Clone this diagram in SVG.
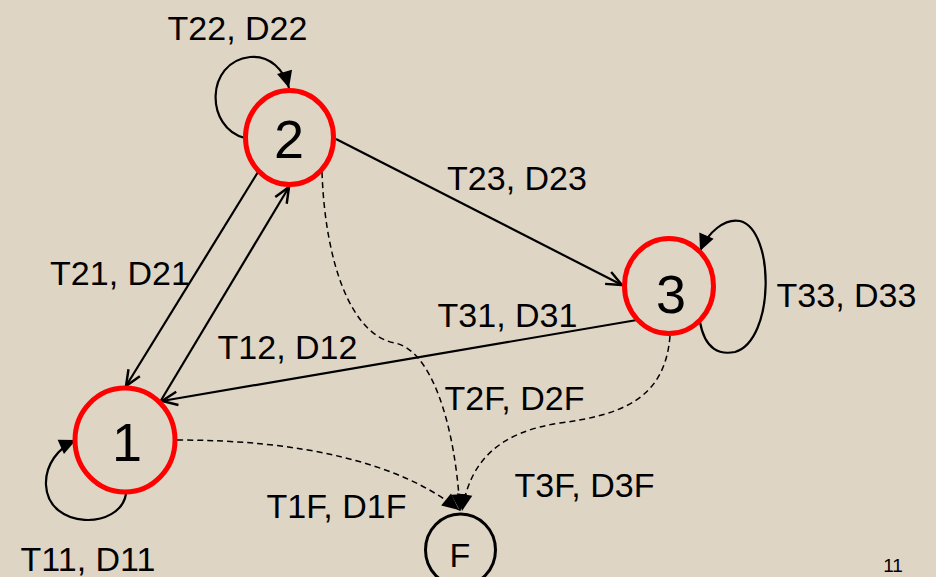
<svg xmlns="http://www.w3.org/2000/svg" width="936" height="577" viewBox="0 0 936 577">
  <defs>
    <style>
      .lbl { font-family: "Liberation Sans", Arial, sans-serif; font-size: 34px; fill: #000; text-anchor: middle; }
      .num { font-family: "Liberation Sans", Arial, sans-serif; font-size: 54px; fill: #000; text-anchor: middle; }
      .state { fill: none; stroke: #FF0000; stroke-width: 5; }
      .edge { fill: none; stroke: #000; stroke-width: 2.2; }
      .dash { fill: none; stroke: #000; stroke-width: 1.5; stroke-dasharray: 6 4; }
    </style>
    <marker id="open" markerUnits="userSpaceOnUse" markerWidth="20" markerHeight="20" viewBox="-16 -8 18 16" refX="0" refY="0" orient="auto">
      <path d="M-14,-6 L0,0 L-14,6" fill="none" stroke="#000" stroke-width="2.2"/>
    </marker>
    <marker id="fill" markerUnits="userSpaceOnUse" markerWidth="20" markerHeight="20" viewBox="-16 -8 18 16" refX="0" refY="0" orient="auto">
      <path d="M-15,-7 L0,0 L-15,7 Z" fill="#000"/>
    </marker>
  </defs>
  <rect x="0" y="0" width="936" height="577" fill="#DFD5C5"/>

  <g id="connectors">
    <path class="edge" d="M258,172 L126,386" marker-end="url(#open)"/>
    <path class="edge" d="M160,402 L289,187" marker-end="url(#open)"/>
    <path class="edge" d="M637,320 L162,401" marker-end="url(#open)"/>
    <path class="edge" d="M336,139 L622,285" marker-end="url(#open)"/>
    <path class="edge" d="M245,138 C205,128 205,62 250,57 C270,55 284,70 289,88" marker-end="url(#fill)"/>
    <path class="edge" d="M126,494 C120,530 48,530 46,485 C45,465 58,448 76,440" marker-end="url(#fill)"/>
    <path class="edge" d="M700,322 C705,350 720,355 735,352 C775,340 775,230 740,221 C725,218 708,232 700,251" marker-end="url(#fill)"/>
    <path class="dash" d="M177,440 C300,440 400,462 459,510" marker-end="url(#fill)"/>
    <path class="dash" d="M322,172 C325,260 350,335 395,343 C430,350 455,420 460,511" marker-end="url(#fill)"/>
    <path class="dash" d="M670,336 C665,400 620,415 560,423 C500,432 470,460 462,511" marker-end="url(#fill)"/>
  </g>

  <g id="node-1">
    <ellipse class="state" cx="125" cy="440" rx="50" ry="52"/>
    <text class="num" x="127" y="461">1</text>
  </g>
  <g id="node-2">
    <ellipse class="state" cx="289.5" cy="137.5" rx="44" ry="47"/>
    <text class="num" x="289" y="158">2</text>
  </g>
  <g id="node-3">
    <ellipse class="state" cx="669" cy="286" rx="44.5" ry="47.5"/>
    <text class="num" x="671" y="313">3</text>
  </g>
  <g id="node-F">
    <ellipse cx="460.5" cy="550" rx="35" ry="36" fill="none" stroke="#000" stroke-width="3"/>
    <text class="lbl" x="460" y="567">F</text>
  </g>

  <g id="labels">
    <text class="lbl" x="237.5" y="40">T22, D22</text>
    <text class="lbl" x="517" y="190">T23, D23</text>
    <text class="lbl" x="120" y="285">T21, D21</text>
    <text class="lbl" x="287.5" y="359">T12, D12</text>
    <text class="lbl" x="507.5" y="327">T31, D31</text>
    <text class="lbl" x="846.5" y="307">T33, D33</text>
    <text class="lbl" x="514.5" y="410">T2F, D2F</text>
    <text class="lbl" x="584.5" y="497">T3F, D3F</text>
    <text class="lbl" x="336.5" y="518">T1F, D1F</text>
    <text class="lbl" x="88" y="571">T11, D11</text>
    <text x="893" y="572" font-family="Liberation Sans, Arial, sans-serif" font-size="19" text-anchor="middle" fill="#000">11</text>
  </g>
</svg>
